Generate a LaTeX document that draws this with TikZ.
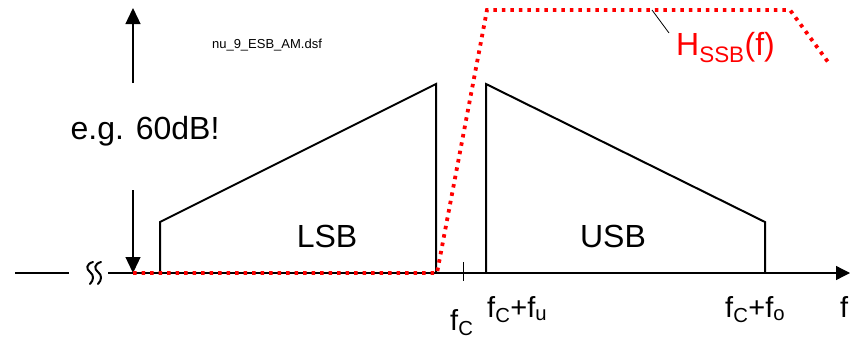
\documentclass[tikz,border=0pt]{standalone}
\usepackage{fontspec}
\setmainfont{Liberation Sans}
\usetikzlibrary{arrows.meta}
\begin{document}
\begin{tikzpicture}[x=1pt,y=-1pt,
  axisline/.style={line width=1.3pt},
  bandline/.style={line width=2pt, line join=miter},
  filter/.style={red, line width=3.8pt, dash pattern=on 3.5pt off 5pt},
  big/.style={font=\fontsize{32}{36}\selectfont},
  mid/.style={font=\fontsize{29}{32}\selectfont},
  tri/.style={-{Triangle[width=15pt,length=16pt]}, line width=1.3pt},
  wig/.style={line width=2pt, line cap=round}
]
\useasboundingbox (0,0) rectangle (851,340);
% axis
\coordinate (axL) at (15,273);
\coordinate (axM) at (69,273);
\coordinate (axS) at (108,273);
\coordinate (axE) at (850,273);
\draw[axisline] (axL) -- (axM);
\draw[axisline, -{Triangle[width=14pt,length=14pt]}] (axS) -- (axE);
% squiggles
\draw[wig] (93,262) .. controls (86,264) and (86,269) .. (90,272) .. controls (94,275) and (94,280) .. (90,284);
\draw[wig] (101,262) .. controls (94,264) and (94,269) .. (98,272) .. controls (102,275) and (102,280) .. (98,284);
% fC tick
\coordinate (tkT) at (463,262);
\coordinate (tkB) at (463,281);
\draw[line width=0.9pt] (tkT) -- (tkB);
% LSB
\coordinate (l1) at (160,273);
\coordinate (l2) at (160,222);
\coordinate (l3) at (436,84);
\coordinate (l4) at (436,273);
\draw[bandline] (l1) -- (l2) -- (l3) -- (l4);
% USB
\coordinate (u1) at (486,273);
\coordinate (u2) at (486,84);
\coordinate (u3) at (765,222);
\coordinate (u4) at (765,273);
\draw[bandline] (u1) -- (u2) -- (u3) -- (u4);
% dynamic arrows
\coordinate (aUp0) at (133,83);
\coordinate (aUp1) at (133,8);
\coordinate (aDn0) at (133,190);
\coordinate (aDn1) at (133,273);
\draw[tri] (aUp0) -- (aUp1);
\draw[tri] (aDn0) -- (aDn1);
% filter
\coordinate (h0) at (133,273);
\coordinate (h1) at (437,273);
\coordinate (h2) at (487,10);
\coordinate (h3) at (790,10);
\coordinate (h4) at (828,62);
\draw[filter] (h0) -- (h1) -- (h2) -- (h3) -- (h4);
% leader
\coordinate (ld0) at (652,10);
\coordinate (ld1) at (669,33);
\draw[line width=0.8pt] (ld0) -- (ld1);
% labels
\node[big, anchor=base] (eg) at (145,139) {e.g. 60dB!};
\node[big, anchor=base] (lsb) at (327,247) {LSB};
\node[big, anchor=base] (usb) at (613,247) {USB};
\node[font=\fontsize{13}{15}\selectfont] (fn) at (267,45) {nu\_9\_ESB\_AM.dsf};
\node[big, red, anchor=base west, inner sep=0pt] (hs) at (676,55) {H\textsubscript{SSB}(f)};
\node[mid, anchor=base west, inner sep=0pt] (fc) at (450,330) {f\textsubscript{C}};
\node[mid, anchor=base west, inner sep=0pt] (fcu) at (487,317) {f\textsubscript{C}+f\textsubscript{u}};
\node[mid, anchor=base west, inner sep=0pt] (fco) at (725,317) {f\textsubscript{C}+f\textsubscript{o}};
\node[mid, anchor=base west, inner sep=0pt] (ff) at (840,317) {f};
\end{tikzpicture}
\end{document}
